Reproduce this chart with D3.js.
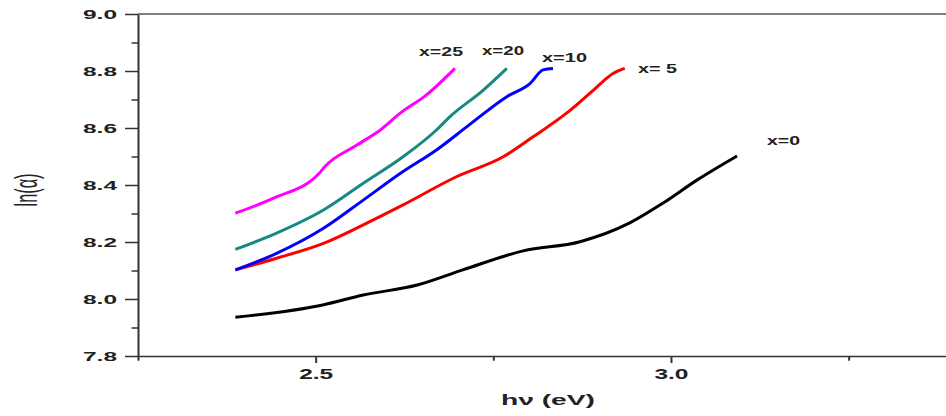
<!DOCTYPE html>
<html>
<head>
    <meta charset="utf-8">
    <title>ln(alpha) vs hv</title>
    <style media="screen" type="text/css">
        body { margin: 0; background: #fff; }
        svg { display: block; }
        text { font-family: "Liberation Sans", Arial, sans-serif; fill: #222; }
        .axis path, .axis line { stroke: #333; }
    </style>
</head>
<body>
    <svg width="946" height="416"></svg>

    <script src="https://cdn.jsdelivr.net/npm/d3@7"></script>
    <script>

    // photon energy hv (eV) and ln(alpha)
    var hv0  = [2.387, 2.510, 2.567, 2.643, 2.707, 2.792, 2.872, 2.942, 2.989, 3.037, 3.093];
    var ln0  = [7.936, 7.979, 8.014, 8.049, 8.102, 8.169, 8.201, 8.267, 8.337, 8.418, 8.502];

    var hv5  = [2.387, 2.445, 2.511, 2.567, 2.623, 2.698, 2.764, 2.806, 2.853, 2.891, 2.919, 2.935];
    var ln5  = [8.102, 8.143, 8.195, 8.260, 8.330, 8.429, 8.499, 8.569, 8.652, 8.733, 8.792, 8.809];

    var hv10 = [2.387, 2.445, 2.511, 2.567, 2.623, 2.670, 2.713, 2.769, 2.802, 2.820, 2.834];
    var ln10 = [8.102, 8.160, 8.248, 8.347, 8.447, 8.523, 8.605, 8.710, 8.757, 8.804, 8.809];

    var hv20 = [2.387, 2.445, 2.511, 2.567, 2.623, 2.670, 2.689, 2.736, 2.769];
    var ln20 = [8.174, 8.231, 8.312, 8.406, 8.499, 8.593, 8.640, 8.733, 8.809];

    var hv25 = [2.387, 2.440, 2.505, 2.512, 2.558, 2.591, 2.619, 2.656, 2.696];
    var ln25 = [8.301, 8.353, 8.441, 8.462, 8.540, 8.593, 8.652, 8.716, 8.809];

    var seriesNames = ['x=0', 'x= 5', 'x=10', 'x=20', 'x=25'];
    var seriesColors = ['#000000', '#ff0000', '#0000ff', '#148a80', '#ff00ff'];

    var yMajorTicks = [7.8, 8.0, 8.2, 8.4, 8.6, 8.8, 9.0];
    var yMinorTicks = [7.9, 8.1, 8.3, 8.5, 8.7, 8.9];
    var xMajorTicks = [2.5, 3.0];
    var xMinorTicks = [2.25, 2.75, 3.25];

    var series = [
        { name: seriesNames[0], c: seriesColors[0], hv: hv0,  ln: ln0  },
        { name: seriesNames[1], c: seriesColors[1], hv: hv5,  ln: ln5  },
        { name: seriesNames[2], c: seriesColors[2], hv: hv10, ln: ln10 },
        { name: seriesNames[3], c: seriesColors[3], hv: hv20, ln: ln20 },
        { name: seriesNames[4], c: seriesColors[4], hv: hv25, ln: ln25 }
    ];

    // label spots (the original picture is stretched sideways, so text is too)
    var labelPos = [
        { x: 767, y: 145, w: 33 },
        { x: 638, y: 73,  w: 39 },
        { x: 542, y: 62,  w: 45 },
        { x: 482, y: 55,  w: 42 },
        { x: 419, y: 56,  w: 44 }
    ];

    var svg = d3.select('svg');
    var mLeft = 138, mRight = 946, mTop = 14, mBottom = 356;

    var x = d3.scaleLinear().domain([2.25, 3.387]).range([mLeft, mRight]);
    var y = d3.scaleLinear().domain([7.8, 9.0]).range([mBottom, mTop]);

    // top frame line
    svg.append('line')
        .attr('x1', mLeft).attr('x2', mRight)
        .attr('y1', mTop).attr('y2', mTop)
        .attr('stroke', '#555').attr('stroke-width', 1.5);

    // y axis
    var yMinor = svg.append('g').attr('class', 'axis')
        .attr('transform', 'translate(' + mLeft + ',0)')
        .call(d3.axisLeft(y).tickValues(yMinorTicks).tickSize(6.5).tickSizeOuter(0).tickFormat(''));
    yMinor.select('.domain').remove();
    yMinor.selectAll('line').attr('stroke-width', 1.5);

    var yAxis = svg.append('g').attr('class', 'axis')
        .attr('transform', 'translate(' + mLeft + ',0)')
        .call(d3.axisLeft(y).tickValues(yMajorTicks).tickSize(13).tickSizeOuter(0)
            .tickPadding(8).tickFormat(d3.format('.1f')));
    yAxis.select('.domain').attr('stroke-width', 2);
    yAxis.selectAll('line').attr('stroke-width', 1.5);
    yAxis.selectAll('text')
        .style('font-size', '13px').style('font-weight', 'bold').style('fill', '#222')
        .attr('textLength', 34).attr('lengthAdjust', 'spacingAndGlyphs');

    // x axis
    var xMinor = svg.append('g').attr('class', 'axis')
        .attr('transform', 'translate(0,' + mBottom + ')')
        .call(d3.axisBottom(x).tickValues(xMinorTicks).tickSize(4.7).tickSizeOuter(0).tickFormat(''));
    xMinor.select('.domain').remove();
    xMinor.selectAll('line').attr('stroke-width', 2);

    var xAxis = svg.append('g').attr('class', 'axis')
        .attr('transform', 'translate(0,' + mBottom + ')')
        .call(d3.axisBottom(x).tickValues(xMajorTicks).tickSize(7).tickSizeOuter(0)
            .tickPadding(6.3).tickFormat(d3.format('.1f')));
    xAxis.select('.domain').attr('stroke-width', 1.5);
    xAxis.selectAll('line').attr('stroke-width', 2);
    xAxis.selectAll('text')
        .style('font-size', '14px').style('font-weight', 'bold').style('fill', '#222')
        .attr('textLength', 34).attr('lengthAdjust', 'spacingAndGlyphs');

    // axis titles
    svg.append('text')
        .attr('x', 548).attr('y', 405)
        .attr('text-anchor', 'middle')
        .attr('textLength', 94).attr('lengthAdjust', 'spacingAndGlyphs')
        .style('font-size', '15px').style('font-weight', 'bold')
        .text('h\u03bd (eV)');

    svg.append('text')
        .attr('transform', 'translate(37,190) scale(2,1) rotate(-90)')
        .attr('text-anchor', 'middle')
        .attr('textLength', 33).attr('lengthAdjust', 'spacingAndGlyphs')
        .style('font-size', '16px')
        .text('ln(\u03b1)');

    // curves
    var line = d3.line()
        .x(function(d) { return x(d[0]); })
        .y(function(d) { return y(d[1]); })
        .curve(d3.curveMonotoneX);

    svg.append('g').selectAll('path')
        .data(series)
        .enter().append('path')
        .attr('fill', 'none')
        .attr('stroke', function(d) { return d.c; })
        .attr('stroke-width', 3)
        .attr('stroke-linejoin', 'round')
        .attr('d', function(d) { return line(d3.zip(d.hv, d.ln)); });

    // series labels
    svg.append('g').selectAll('text')
        .data(series)
        .enter().append('text')
        .attr('x', function(d, i) { return labelPos[i].x; })
        .attr('y', function(d, i) { return labelPos[i].y; })
        .attr('textLength', function(d, i) { return labelPos[i].w; })
        .attr('lengthAdjust', 'spacingAndGlyphs')
        .style('font-size', '12px').style('font-weight', 'bold')
        .style('white-space', 'pre')
        .text(function(d) { return d.name; });

    </script>
</body>
</html>
